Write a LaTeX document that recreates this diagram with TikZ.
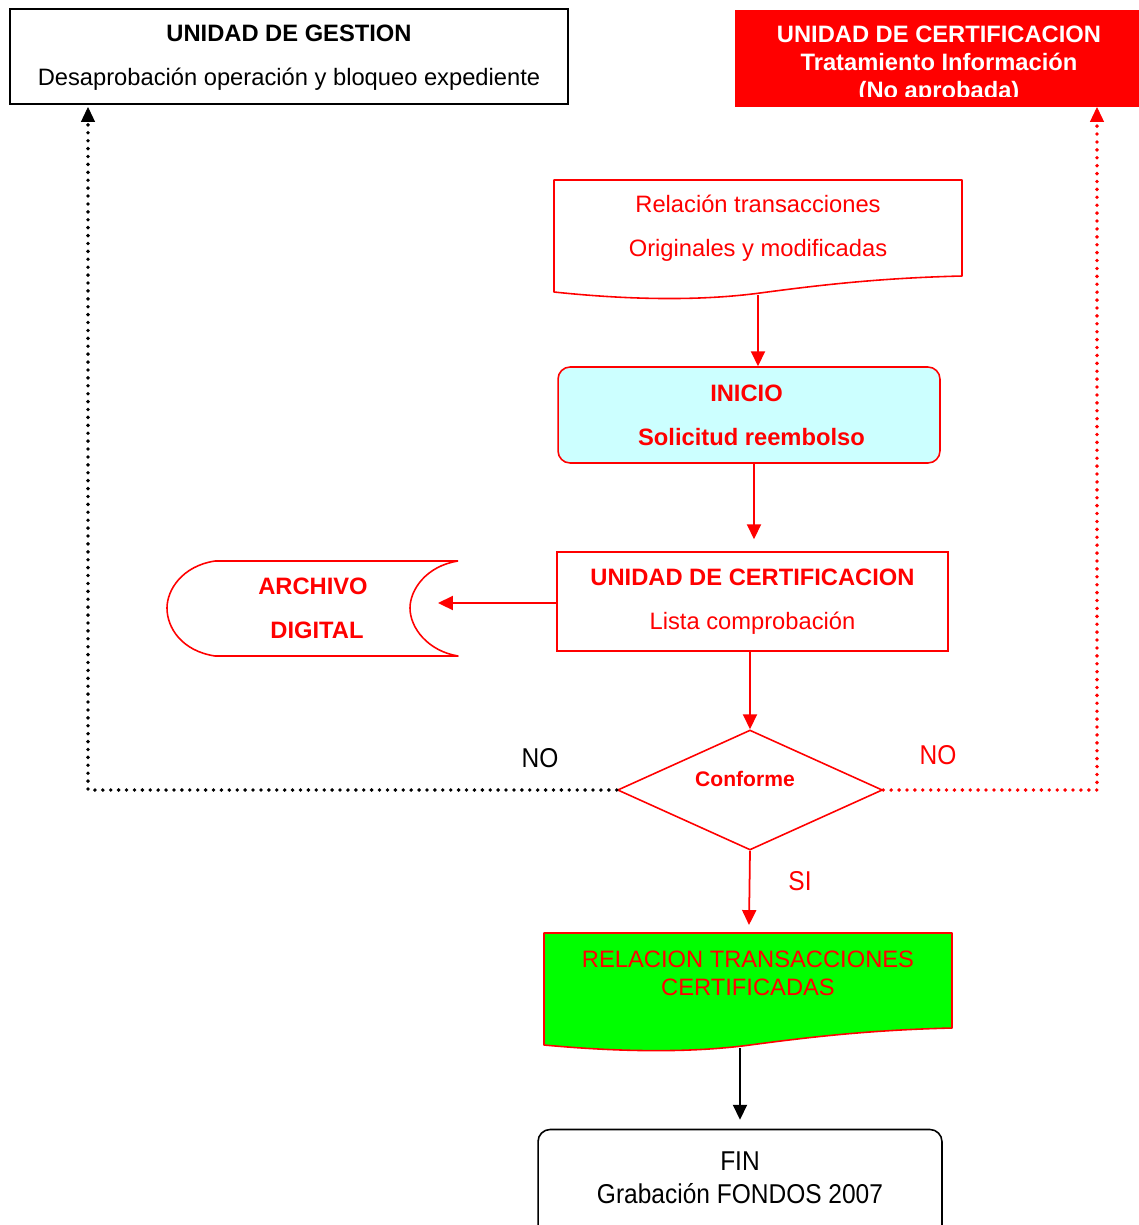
\documentclass[tikz,border=0pt]{standalone}
\usepackage{fontspec}
\setmainfont{Liberation Sans}
\newfontfamily\narrowfont[FakeStretch=0.9]{Liberation Sans}
\usetikzlibrary{arrows.meta,shapes.geometric}
\definecolor{celeste}{HTML}{CCFFFF}
\definecolor{verde}{HTML}{00FF00}

\begin{document}
\begin{tikzpicture}[x=0.02cm, y=-0.02cm,
  every node/.style={align=center, font=\fontsize{13.5}{16}\selectfont},
  negrita/.style={font=\fontsize{13.5}{16}\selectfont\bfseries},
  estrecha/.style={font=\fontsize{15.5}{18.7}\selectfont\narrowfont},
  caja/.style={draw=red, line width=0.9pt, text=red, minimum height=1.96cm},
  flecha/.style={draw=red, line width=1pt, -{Triangle[length=8.5pt,width=8pt]}},
  puntos/.style={line width=2.2pt, line cap=round, dash pattern=on 0pt off 4.5pt,
    -{Triangle[length=8.5pt,width=8pt,line cap=butt,line width=0.5pt]}}]
  \useasboundingbox (0,0) rectangle (1139,1225);

  % cajas de arriba
  \node[draw=black, line width=0.8pt, minimum width=11.16cm, minimum height=1.9cm] (G) at (289,56.5) {};
  \node (Gt) at (289,57.5) {\textbf{UNIDAD DE GESTION}\\[8.9pt]Desaprobación operación y bloqueo expediente};
  \node[fill=red, minimum width=8.08cm, minimum height=1.94cm] (N) at (937,58.5) {};
  \begin{scope}
    \clip (735,10) rectangle (1139,96);
    \node[negrita, text=white] (Nt) at (939,65) {UNIDAD DE CERTIFICACION\\Tratamiento Información\\(No aprobada)};
  \end{scope}
  \coordinate (Gi) at (88,107);
  \coordinate (Ni) at (1097,107);

  % documento de entrada
  \draw[red, line width=0.9pt, line join=round] (554,180) -- (962,180) -- (962,276)
    .. controls (880,278) and (820,285) .. (760,293)
    .. controls (700,301) and (630,300) .. (554,292) -- cycle;
  \node[text=red] (R) at (758,228.5) {Relación transacciones\\[8.9pt]Originales y modificadas};
  \coordinate (Rb) at (758,295);

  \node[caja, negrita, fill=celeste, rounded corners=0.24cm, minimum width=7.64cm, minimum height=1.92cm] (I) at (749,415)
    {\hspace*{-0.1cm}INICIO\\[8.9pt]\hspace*{0.1cm}Solicitud reembolso};
  \node[caja, minimum width=7.82cm, minimum height=1.98cm] (U) at (752.5,601.5)
    {\textbf{UNIDAD DE CERTIFICACION}\\[8.9pt]Lista comprobación};

  % archivo digital
  \draw[red, line width=0.9pt, line join=round] (458,561) -- (215,561)
    .. controls (182,566) and (167,590) .. (167,608)
    .. controls (167,628) and (182,651) .. (215,656) -- (458,656)
    .. controls (428,651) and (410,628) .. (410,608)
    .. controls (410,590) and (426,566) .. (458,561);
  \node[negrita, text=red] (A) at (315,608) {\hspace*{-0.08cm}ARCHIVO\\[8.9pt]\hspace*{0.08cm}DIGITAL};
  \coordinate (Ae) at (438,603);

  % decision
  \node[diamond, draw=red, line width=0.9pt, aspect=2.2, inner sep=0pt, minimum width=5.3cm, minimum height=2.4cm] (C) at (750,790) {};
  \node[font=\fontsize{12}{14}\selectfont\bfseries, text=red] (Ct) at (745,779) {Conforme};
  \node[estrecha] (NOi) at (540,758) {NO};
  \node[estrecha, text=red] (NOd) at (938,755) {NO};
  \node[estrecha, text=red] (SI) at (800,881) {SI};
  \coordinate (Vt) at (749,925);

  % documento de salida
  \draw[red, line width=0.9pt, line join=round, fill=verde] (544,933) -- (952,933) -- (952,1028)
    .. controls (870,1030) and (810,1037) .. (750,1045)
    .. controls (690,1053) and (620,1052) .. (544,1045) -- cycle;
  \node[text=red] (V) at (748,973) {RELACION TRANSACCIONES\\CERTIFICADAS};
  \coordinate (Vb) at (740,1048);

  \node[draw=black, line width=0.9pt, rounded corners=0.24cm, minimum width=8.08cm, minimum height=2.22cm] (F) at (740,1185) {};
  \node[estrecha] (Ft) at (740,1177.5) {FIN\\Grabación FONDOS 2007};

  % conectores
  \draw[flecha] (Rb) -- (Rb |- I.north);
  \draw[flecha, shorten >=0.24cm] (I.south -| 754,0) -- (U.north -| 754,0);
  \draw[flecha] (U.south -| C.north) -- (C.north);
  \draw[flecha] (U.west |- Ae) -- (Ae);
  \draw[puntos, black] (C.west) -| (Gi);
  \draw[puntos, red] (C.east) -| (Ni);
  \draw[flecha] (C.south) -- (Vt);
  \draw[flecha, black, shorten >=0.18cm] (Vb) -- (Vb |- F.north);
\end{tikzpicture}
\end{document}
